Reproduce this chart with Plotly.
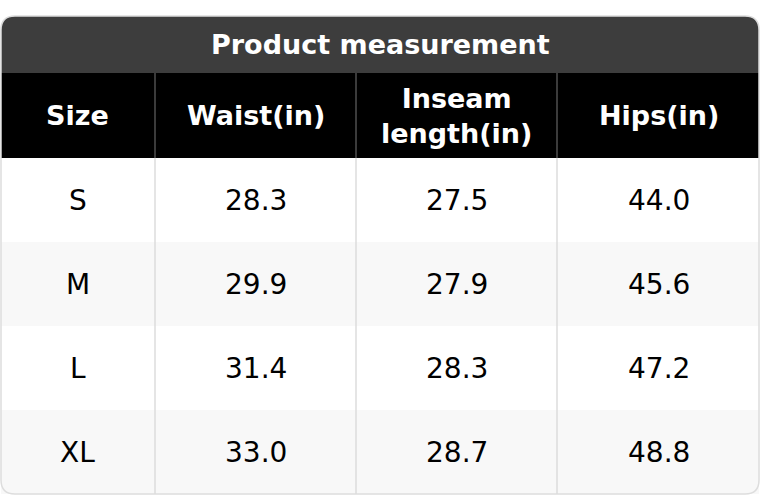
import plotly.graph_objects as go

title = "Product measurement"
headers = ["Size", "Waist(in)", "Inseam<br>length(in)", "Hips(in)"]
sizes = ["S", "M", "L", "XL"]
waist = [28.3, 29.9, 31.4, 33.0]
inseam = [27.5, 27.9, 28.3, 28.7]
hips = [44.0, 45.6, 47.2, 48.8]

col_edges = [0, 155, 356, 557, 760]
title_top, header_top, body_top, row_h, bottom = 16, 73, 158, 84, 494
font = "DejaVu Sans"


def rounded_path(x0, y0, x1, y1, r, top=True, bottom_round=True):
    p = f"M {x0+r},{y0} L {x1-r},{y0} Q {x1},{y0} {x1},{y0+r} " if top else f"M {x0},{y0} L {x1},{y0} "
    if bottom_round:
        p += f"L {x1},{y1-r} Q {x1},{y1} {x1-r},{y1} L {x0+r},{y1} Q {x0},{y1} {x0},{y1-r} "
    else:
        p += f"L {x1},{y1} L {x0},{y1} "
    p += f"L {x0},{y0+r} Q {x0},{y0} {x0+r},{y0} Z" if top else f"L {x0},{y0} Z"
    return p


shapes, annotations = [], []
# title bar
shapes.append(dict(type="path", path=rounded_path(1, title_top, 759, header_top, 14, True, False),
                   fillcolor="#3d3d3d", line_width=0, layer="below"))
annotations.append(dict(x=380, y=(title_top + header_top) / 2, text=f"<b>{title}</b>", showarrow=False,
                        font=dict(family=font, size=27, color="white")))
# header
shapes.append(dict(type="rect", x0=1, x1=759, y0=header_top, y1=body_top, fillcolor="black",
                   line_width=0, layer="below"))
for i, h in enumerate(headers):
    cx = (col_edges[i] + col_edges[i + 1]) / 2
    annotations.append(dict(x=cx, y=(header_top + body_top) / 2, text=f"<b>{h}</b>", showarrow=False,
                            font=dict(family=font, size=27, color="white")))
    if i > 0:
        shapes.append(dict(type="line", x0=col_edges[i], x1=col_edges[i], y0=header_top, y1=body_top,
                           line=dict(color="#777777", width=1)))

# body rows
rows = list(zip(sizes, waist, inseam, hips))
for r, row in enumerate(rows):
    y0 = body_top + r * row_h
    y1 = y0 + row_h
    shapes.append(dict(type="rect", x0=1, x1=759, y0=y0, y1=y1,
                       fillcolor="white" if r % 2 == 0 else "#f8f8f8", line_width=0, layer="below"))
    for c, v in enumerate(row):
        cx = (col_edges[c] + col_edges[c + 1]) / 2
        txt = v if isinstance(v, str) else f"{v:.1f}"
        annotations.append(dict(x=cx, y=(y0 + y1) / 2, text=txt, showarrow=False,
                                font=dict(family=font, size=28, color="black")))
for i in range(1, 4):
    shapes.append(dict(type="line", x0=col_edges[i], x1=col_edges[i], y0=body_top, y1=bottom,
                       line=dict(color="#dddddd", width=1.5)))
# outer border
shapes.append(dict(type="path", path=rounded_path(1, title_top, 759, bottom, 14),
                   line=dict(color="#dddddd", width=1.5)))

fig = go.Figure()
fig.update_layout(
    width=760, height=496,
    margin=dict(l=0, r=0, t=0, b=0),
    paper_bgcolor="white", plot_bgcolor="white",
    xaxis=dict(range=[0, 760], visible=False, fixedrange=True),
    yaxis=dict(range=[496, 0], visible=False, fixedrange=True),
    shapes=shapes, annotations=annotations, showlegend=False,
)
fig.write_html("out.html", config={"displayModeBar": False},
               post_script="document.body.style.margin='0';")
